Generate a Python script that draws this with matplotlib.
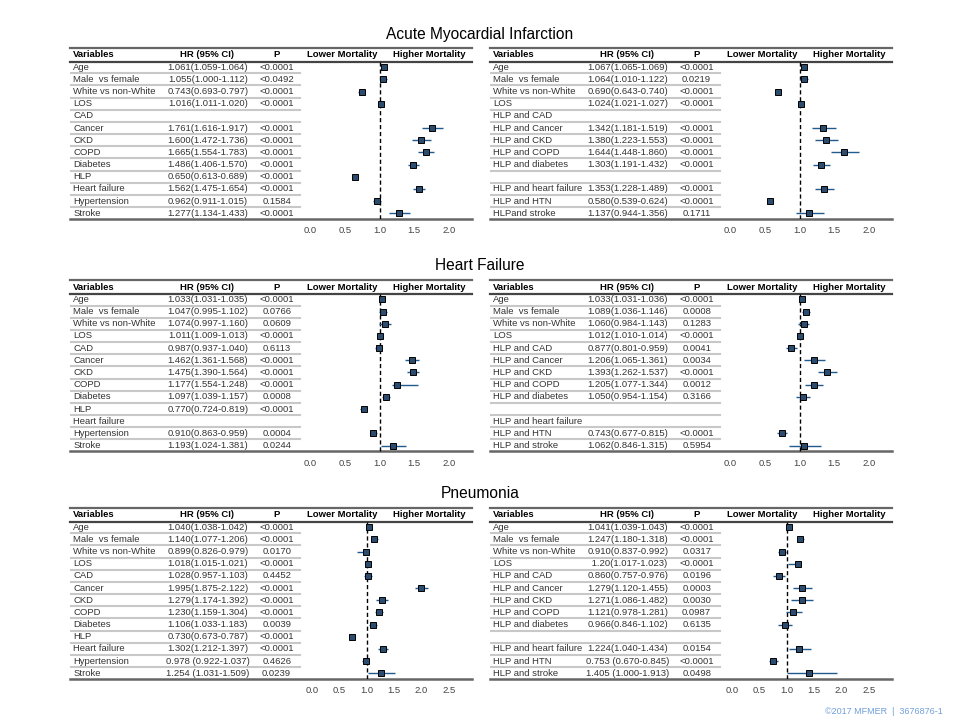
import numpy as np
import matplotlib.pyplot as plt

plt.rcParams['font.family'] = ['Liberation Sans', 'DejaVu Sans']

# Row labels
left_vars = ["Age", "Male  vs female", "White vs non-White", "LOS", "CAD", "Cancer", "CKD",
             "COPD", "Diabetes", "HLP", "Heart failure", "Hypertension", "Stroke"]
ami_right_vars = ["Age", "Male  vs female", "White vs non-White", "LOS", "HLP and CAD",
                  "HLP and Cancer", "HLP and CKD", "HLP and COPD", "HLP and diabetes", "",
                  "HLP and heart failure", "HLP and HTN", "HLPand stroke"]
right_vars = ["Age", "Male  vs female", "White vs non-White", "LOS", "HLP and CAD",
              "HLP and Cancer", "HLP and CKD", "HLP and COPD", "HLP and diabetes", "",
              "HLP and heart failure", "HLP and HTN", "HLP and stroke"]

# Acute Myocardial Infarction
ami_l_txt = ["1.061(1.059-1.064)", "1.055(1.000-1.112)", "0.743(0.693-0.797)", "1.016(1.011-1.020)", "",
             "1.761(1.616-1.917)", "1.600(1.472-1.736)", "1.665(1.554-1.783)", "1.486(1.406-1.570)",
             "0.650(0.613-0.689)", "1.562(1.475-1.654)", "0.962(0.911-1.015)", "1.277(1.134-1.433)"]
ami_l_p = ["<0.0001", "<0.0492", "<0.0001", "<0.0001", "", "<0.0001", "<0.0001", "<0.0001",
           "<0.0001", "<0.0001", "<0.0001", "0.1584", "<0.0001"]
ami_l_est = [1.061, 1.055, 0.743, 1.016, np.nan, 1.761, 1.600, 1.665, 1.486, 0.650, 1.562, 0.962, 1.277]
ami_l_lo = [1.059, 1.000, 0.693, 1.011, np.nan, 1.616, 1.472, 1.554, 1.406, 0.613, 1.475, 0.911, 1.134]
ami_l_hi = [1.064, 1.112, 0.797, 1.020, np.nan, 1.917, 1.736, 1.783, 1.570, 0.689, 1.654, 1.015, 1.433]

ami_r_txt = ["1.067(1.065-1.069)", "1.064(1.010-1.122)", "0.690(0.643-0.740)", "1.024(1.021-1.027)", "",
             "1.342(1.181-1.519)", "1.380(1.223-1.553)", "1.644(1.448-1.860)", "1.303(1.191-1.432)", "",
             "1.353(1.228-1.489)", "0.580(0.539-0.624)", "1.137(0.944-1.356)"]
ami_r_p = ["<0.0001", "0.0219", "<0.0001", "<0.0001", "", "<0.0001", "<0.0001", "<0.0001",
           "<0.0001", "", "<0.0001", "<0.0001", "0.1711"]
ami_r_est = [1.067, 1.064, 0.690, 1.024, np.nan, 1.342, 1.380, 1.644, 1.303, np.nan, 1.353, 0.580, 1.137]
ami_r_lo = [1.065, 1.010, 0.643, 1.021, np.nan, 1.181, 1.223, 1.448, 1.191, np.nan, 1.228, 0.539, 0.944]
ami_r_hi = [1.069, 1.122, 0.740, 1.027, np.nan, 1.519, 1.553, 1.860, 1.432, np.nan, 1.489, 0.624, 1.356]

# Heart Failure
hf_l_txt = ["1.033(1.031-1.035)", "1.047(0.995-1.102)", "1.074(0.997-1.160)", "1.011(1.009-1.013)",
            "0.987(0.937-1.040)", "1.462(1.361-1.568)", "1.475(1.390-1.564)", "1.177(1.554-1.248)",
            "1.097(1.039-1.157)", "0.770(0.724-0.819)", "", "0.910(0.863-0.959)", "1.193(1.024-1.381)"]
hf_l_p = ["<0.0001", "0.0766", "0.0609", "<0.0001", "0.6113", "<0.0001", "<0.0001", "<0.0001",
          "0.0008", "<0.0001", "", "0.0004", "0.0244"]
hf_l_est = [1.033, 1.047, 1.074, 1.011, 0.987, 1.462, 1.475, 1.248, 1.097, 0.770, np.nan, 0.910, 1.193]
hf_l_lo = [1.031, 0.995, 0.997, 1.009, 0.937, 1.361, 1.390, 1.177, 1.039, 0.724, np.nan, 0.863, 1.024]
hf_l_hi = [1.035, 1.102, 1.160, 1.013, 1.040, 1.568, 1.564, 1.554, 1.157, 0.819, np.nan, 0.959, 1.381]

hf_r_txt = ["1.033(1.031-1.036)", "1.089(1.036-1.146)", "1.060(0.984-1.143)", "1.012(1.010-1.014)",
            "0.877(0.801-0.959)", "1.206(1.065-1.361)", "1.393(1.262-1.537)", "1.205(1.077-1.344)",
            "1.050(0.954-1.154)", "", "", "0.743(0.677-0.815)", "1.062(0.846-1.315)"]
hf_r_p = ["<0.0001", "0.0008", "0.1283", "<0.0001", "0.0041", "0.0034", "<0.0001", "0.0012",
          "0.3166", "", "", "<0.0001", "0.5954"]
hf_r_est = [1.033, 1.089, 1.060, 1.012, 0.877, 1.206, 1.393, 1.205, 1.050, np.nan, np.nan, 0.743, 1.062]
hf_r_lo = [1.031, 1.036, 0.984, 1.010, 0.801, 1.065, 1.262, 1.077, 0.954, np.nan, np.nan, 0.677, 0.846]
hf_r_hi = [1.036, 1.146, 1.143, 1.014, 0.959, 1.361, 1.537, 1.344, 1.154, np.nan, np.nan, 0.815, 1.315]

# Pneumonia
pn_l_txt = ["1.040(1.038-1.042)", "1.140(1.077-1.206)", "0.899(0.826-0.979)", "1.018(1.015-1.021)",
            "1.028(0.957-1.103)", "1.995(1.875-2.122)", "1.279(1.174-1.392)", "1.230(1.159-1.304)",
            "1.106(1.033-1.183)", "0.730(0.673-0.787)", "1.302(1.212-1.397)", "0.978 (0.922-1.037)",
            "1.254 (1.031-1.509)"]
pn_l_p = ["<0.0001", "<0.0001", "0.0170", "<0.0001", "0.4452", "<0.0001", "<0.0001", "<0.0001",
          "0.0039", "<0.0001", "<0.0001", "0.4626", "0.0239"]
pn_l_est = [1.040, 1.140, 0.979, 1.018, 1.028, 1.995, 1.279, 1.230, 1.106, 0.730, 1.302, 0.978, 1.254]
pn_l_lo = [1.038, 1.077, 0.826, 1.015, 0.957, 1.875, 1.174, 1.159, 1.033, 0.673, 1.212, 0.922, 1.031]
pn_l_hi = [1.042, 1.206, 0.979, 1.021, 1.103, 2.122, 1.392, 1.304, 1.183, 0.787, 1.397, 1.037, 1.509]

pn_r_txt = ["1.041(1.039-1.043)", "1.247(1.180-1.318)", "0.910(0.837-0.992)", " 1.20(1.017-1.023)",
            "0.860(0.757-0.976)", "1.279(1.120-1.455)", "1.271(1.086-1.482)", "1.121(0.978-1.281)",
            "0.966(0.846-1.102)", "", "1.224(1.040-1.434)", "0.753 (0.670-0.845)", "1.405 (1.000-1.913)"]
pn_r_p = ["<0.0001", "<0.0001", "0.0317", "<0.0001", "0.0196", "0.0003", "0.0030", "0.0987",
          "0.6135", "", "0.0154", "<0.0001", "0.0498"]
pn_r_est = [1.041, 1.247, 0.910, 1.200, 0.860, 1.279, 1.271, 1.121, 0.966, np.nan, 1.224, 0.753, 1.405]
pn_r_lo = [1.039, 1.180, 0.837, 1.017, 0.757, 1.120, 1.086, 0.978, 0.846, np.nan, 1.040, 0.670, 1.000]
pn_r_hi = [1.043, 1.318, 0.992, 1.200, 0.976, 1.455, 1.482, 1.281, 1.102, np.nan, 1.434, 0.845, 1.913]

ticks_2 = [0.0, 0.5, 1.0, 1.5, 2.0]
ticks_25 = [0.0, 0.5, 1.0, 1.5, 2.0, 2.5]

W, H = 960, 720
FS = 6.8
TXT = '#333333'
fig = plt.figure(figsize=(W / 100, H / 100), dpi=100)


def add_px_axes(x, y, w, h):
    return fig.add_axes([x / W, 1 - (y + h) / H, w / W, h / H])


def draw_panel(x0, y0, labels, hr_txt, p_txt, est, lo, hi, ticks, xlim):
    n = len(labels)
    top, bottom = -1.6, n - 0.5
    h = (bottom - top) * 12.17
    bg = add_px_axes(x0, y0, 402, h)
    bg.set_xlim(0, 1)
    bg.set_ylim(bottom, top)
    bg.axis('off')

    # table rules
    bg.plot([0, 1], [top + 0.02, top + 0.02], color='#666666', lw=1.6, clip_on=False)
    bg.plot([0, 1], [-0.45, -0.45], color='#444444', lw=1.6, clip_on=False)
    for i in range(n - 1):
        bg.plot([0, 0.572], [i + 0.5, i + 0.5], color='#c8c8c8', lw=1.5)
    bg.plot([0, 1], [bottom - 0.02, bottom - 0.02], color='#666666', lw=1.8, clip_on=False)

    hy = -1.02
    bg.text(0.008, hy, "Variables", fontsize=FS, fontweight='bold', va='center', ha='left')
    bg.text(0.340, hy, "HR (95% CI)", fontsize=FS, fontweight='bold', va='center', ha='center')
    bg.text(0.514, hy, "P", fontsize=FS, fontweight='bold', va='center', ha='center')
    bg.text(0.677, hy, "Lower Mortality", fontsize=FS, fontweight='bold', va='center', ha='center')
    bg.text(0.893, hy, "Higher Mortality", fontsize=FS, fontweight='bold', va='center', ha='center')

    for i in range(n):
        bg.text(0.008, i, labels[i], fontsize=FS, color=TXT, va='center', ha='left')
        bg.text(0.343, i, hr_txt[i], fontsize=FS, color=TXT, va='center', ha='center')
        bg.text(0.514, i, p_txt[i], fontsize=FS, color=TXT, va='center', ha='center')

    # forest part
    ax = add_px_axes(x0 + 232, y0, 170, h)
    ax.patch.set_visible(False)
    ax.set_xlim(*xlim)
    ax.set_ylim(bottom, top)
    for s in ax.spines.values():
        s.set_visible(False)
    ax.set_yticks([])
    ax.set_xticks(ticks)
    ax.set_xticklabels([f"{t:.1f}" for t in ticks])
    ax.tick_params(axis='x', length=0, pad=5, labelsize=FS, labelcolor='#444444')
    ax.plot([1, 1], [-0.45, bottom], color='black', lw=1, ls=(0, (3, 2)))

    y = np.arange(n)
    ax.hlines(y, lo, hi, color='#1f5b8e', lw=1)
    ax.plot(est, y, ls='none', marker='s', markersize=4.2, markerfacecolor='#2b4c6f',
            markeredgecolor='black', markeredgewidth=0.7)


xl2 = (-0.115, 2.33)
xl25 = (-0.18, 2.92)

draw_panel(70, 47.7, left_vars, ami_l_txt, ami_l_p, ami_l_est, ami_l_lo, ami_l_hi, ticks_2, xl2)
draw_panel(490, 47.7, ami_right_vars, ami_r_txt, ami_r_p, ami_r_est, ami_r_lo, ami_r_hi, ticks_2, xl2)
draw_panel(70, 280, left_vars, hf_l_txt, hf_l_p, hf_l_est, hf_l_lo, hf_l_hi, ticks_2, xl2)
draw_panel(490, 280, right_vars, hf_r_txt, hf_r_p, hf_r_est, hf_r_lo, hf_r_hi, ticks_2, xl2)
draw_panel(70, 507.7, left_vars, pn_l_txt, pn_l_p, pn_l_est, pn_l_lo, pn_l_hi, ticks_25, xl25)
draw_panel(490, 507.7, right_vars, pn_r_txt, pn_r_p, pn_r_est, pn_r_lo, pn_r_hi, ticks_25, xl25)

fig.text(480 / W, 1 - 34 / H, "Acute Myocardial Infarction", fontsize=11.2, ha='center', va='center')
fig.text(480 / W, 1 - 266 / H, "Heart Failure", fontsize=11.2, ha='center', va='center')
fig.text(480 / W, 1 - 493 / H, "Pneumonia", fontsize=11.2, ha='center', va='center')

fig.text(943 / W, 1 - 711 / H, "\u00a92017 MFMER  |  3676876-1", fontsize=6.5, color='#6f9fd8',
         ha='right', va='center')

fig.savefig('out.png', dpi=100)
